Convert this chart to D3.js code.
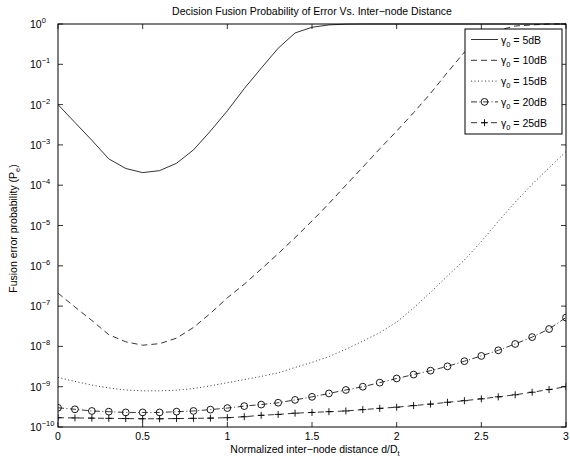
<!DOCTYPE html>
<html>
<head>
<meta charset="utf-8">
<script src="https://cdn.jsdelivr.net/npm/d3@7"></script>
<style>
  body { margin: 0; background: #fff; }
  text { font-family: "Liberation Sans", Arial, sans-serif; fill: #000; }
</style>
</head>
<body>
<svg width="570" height="461"></svg>
<script>
// normalized inter-node distance d/Dt
const distance = [0, 0.1, 0.2, 0.3, 0.4, 0.5, 0.6, 0.7, 0.8, 0.9, 1.0,
  1.1, 1.2, 1.3, 1.4, 1.5, 1.6, 1.7, 1.8, 1.9, 2.0,
  2.1, 2.2, 2.3, 2.4, 2.5, 2.6, 2.7, 2.8, 2.9, 3.0];

// fusion error probability, one array per SNR
const pe5dB = [1e-2, 3.6e-3, 1.3e-3, 4.5e-4, 2.6e-4, 2.05e-4, 2.3e-4, 3.5e-4, 7.5e-4, 2.2e-3, 7e-3,
  2.5e-2, 8e-2, 0.25, 0.6, 0.83, 0.95, 0.99, 1, 1, 1,
  1, 1, 1, 1, 1, 1, 1, 1, 1, 1];
const pe10dB = [2.1e-7, 9.5e-8, 4.4e-8, 1.95e-8, 1.3e-8, 1.07e-8, 1.17e-8, 1.6e-8, 2.95e-8, 6.6e-8, 1.6e-7,
  3.5e-7, 8.3e-7, 2e-6, 5e-6, 1.3e-5, 3.5e-5, 1e-4, 2.8e-4, 8e-4, 2.2e-3,
  6.3e-3, 1.9e-2, 6.3e-2, 0.2, 0.45, 0.7, 0.89, 0.95, 1, 1];
const pe15dB = [1.7e-9, 1.35e-9, 1.1e-9, 9.3e-10, 8.3e-10, 7.9e-10, 7.9e-10, 8.2e-10, 9e-10, 1.05e-9, 1.26e-9,
  1.5e-9, 1.8e-9, 2.2e-9, 3e-9, 4e-9, 5.6e-9, 8.5e-9, 1.35e-8, 2.2e-8, 4e-8,
  9e-8, 2.2e-7, 5.6e-7, 1.4e-6, 4e-6, 1.26e-5, 3.8e-5, 1.05e-4, 2.7e-4, 6.8e-4];
const pe20dB = [3e-10, 2.75e-10, 2.5e-10, 2.4e-10, 2.3e-10, 2.3e-10, 2.3e-10, 2.4e-10, 2.5e-10, 2.7e-10, 2.95e-10,
  3.3e-10, 3.6e-10, 4e-10, 4.7e-10, 5.6e-10, 6.8e-10, 8.3e-10, 1e-9, 1.26e-9, 1.6e-9,
  2e-9, 2.5e-9, 3.2e-9, 4.3e-9, 5.8e-9, 8e-9, 1.15e-8, 1.7e-8, 2.7e-8, 5.2e-8];
const pe25dB = [1.7e-10, 1.68e-10, 1.66e-10, 1.64e-10, 1.62e-10, 1.6e-10, 1.6e-10, 1.62e-10, 1.64e-10, 1.66e-10, 1.7e-10,
  1.8e-10, 1.95e-10, 2.05e-10, 2.2e-10, 2.3e-10, 2.4e-10, 2.5e-10, 2.7e-10, 2.9e-10, 3.1e-10,
  3.4e-10, 3.7e-10, 4.1e-10, 4.5e-10, 5e-10, 5.6e-10, 6.3e-10, 7.3e-10, 8.5e-10, 1e-9];

const legendLabels = ["5dB", "10dB", "15dB", "20dB", "25dB"];
const xTicks = [0, 0.5, 1, 1.5, 2, 2.5, 3];
const yExponents = [0, -1, -2, -3, -4, -5, -6, -7, -8, -9, -10];

// plot box
const boxL = 58, boxR = 566, boxT = 24, boxB = 427;

const svg = d3.select("svg");
svg.append("rect").attr("width", 570).attr("height", 461).attr("fill", "#fff");

const x = d3.scaleLinear().domain([0, 3]).range([boxL, boxR]);
const y = d3.scaleLog().domain([1e-10, 1]).range([boxB, boxT]);

svg.append("defs").append("clipPath").attr("id", "plotclip")
  .append("rect").attr("x", boxL).attr("y", boxT - 1)
  .attr("width", boxR - boxL).attr("height", boxB - boxT + 2);

// ticks (inward, on all four sides)
const ticks = svg.append("g").attr("stroke", "#000").attr("stroke-width", 0.8);
xTicks.forEach(function(t) {
  ticks.append("line").attr("x1", x(t)).attr("x2", x(t)).attr("y1", boxB).attr("y2", boxB - 5);
  ticks.append("line").attr("x1", x(t)).attr("x2", x(t)).attr("y1", boxT).attr("y2", boxT + 5);
});
y.ticks().forEach(function(t) {
  const major = Math.abs(Math.log10(t) - Math.round(Math.log10(t))) < 1e-9;
  const len = major ? 5 : 3;
  ticks.append("line").attr("x1", boxL).attr("x2", boxL + len).attr("y1", y(t)).attr("y2", y(t));
  ticks.append("line").attr("x1", boxR).attr("x2", boxR - len).attr("y1", y(t)).attr("y2", y(t));
});

// tick labels
svg.append("g").selectAll("text")
  .data(xTicks)
  .join("text")
    .attr("x", d => x(d))
    .attr("y", boxB + 13)
    .attr("text-anchor", "middle")
    .style("font-size", "10.5px")
    .text(d => d);

const yl = svg.append("g").selectAll("text")
  .data(yExponents)
  .join("text")
    .attr("x", 30)
    .attr("y", d => y(Math.pow(10, d)) + 4)
    .style("font-size", "10.5px");
yl.append("tspan").text("10");
yl.append("tspan").attr("dy", -5).style("font-size", "7.5px")
  .text(d => d < 0 ? "\u2212" + (-d) : d);

// series
const series = [
  { values: pe5dB, dash: null },
  { values: pe10dB, dash: "6,4" },
  { values: pe15dB, dash: "1,2.5" },
  { values: pe20dB, dash: "6,2.5,1,2.5", marker: "circle" },
  { values: pe25dB, dash: "6,4", marker: "plus" }
];

const line = d3.line()
  .x((d, i) => x(distance[i]))
  .y(d => y(d));

const plot = svg.append("g").attr("clip-path", "url(#plotclip)");

function drawMarker(g, kind, cx, cy) {
  if (kind === "circle") {
    g.append("circle").attr("cx", cx).attr("cy", cy).attr("r", 3.4)
      .attr("fill", "none").attr("stroke", "#000").attr("stroke-width", 0.9);
  } else if (kind === "plus") {
    g.append("path").attr("d", `M${cx - 3.5},${cy}H${cx + 3.5}M${cx},${cy - 3.5}V${cy + 3.5}`)
      .attr("stroke", "#000").attr("stroke-width", 0.9);
  }
}

series.forEach(function(s) {
  plot.append("path")
    .attr("d", line(s.values))
    .attr("fill", "none")
    .attr("stroke", "#000")
    .attr("stroke-width", 0.8)
    .attr("stroke-dasharray", s.dash);
  if (s.marker) {
    s.values.forEach(function(v, i) { drawMarker(plot, s.marker, x(distance[i]), y(v)); });
  }
});

// axes box
svg.append("rect")
  .attr("x", boxL).attr("y", boxT)
  .attr("width", boxR - boxL).attr("height", boxB - boxT)
  .attr("fill", "none").attr("stroke", "#000").attr("stroke-width", 1);

// legend
const lg = svg.append("g");
lg.append("rect").attr("x", 465).attr("y", 29).attr("width", 97).attr("height", 105)
  .attr("fill", "#fff").attr("stroke", "#000").attr("stroke-width", 1);
series.forEach(function(s, i) {
  const ly = 39.5 + i * 20.8;
  lg.append("line").attr("x1", 471).attr("x2", 498).attr("y1", ly).attr("y2", ly)
    .attr("stroke", "#000").attr("stroke-width", 0.8).attr("stroke-dasharray", s.dash);
  if (s.marker) drawMarker(lg, s.marker, 484.5, ly);
  const t = lg.append("text").attr("x", 501).attr("y", ly + 4).style("font-size", "10.5px");
  t.append("tspan").text("\u03b3");
  t.append("tspan").attr("dy", 3).style("font-size", "7.5px").text("0");
  t.append("tspan").attr("dy", -3).text(" = " + legendLabels[i]);
});

// titles
svg.append("text")
  .attr("x", (boxL + boxR) / 2).attr("y", 15)
  .attr("text-anchor", "middle")
  .style("font-size", "10.5px")
  .text("Decision Fusion Probability of Error Vs. Inter\u2212node Distance");

const xl = svg.append("text")
  .attr("x", (boxL + boxR) / 2 + 3).attr("y", 453)
  .attr("text-anchor", "middle")
  .style("font-size", "10.5px");
xl.append("tspan").text("Normalized inter\u2212node distance d/D");
xl.append("tspan").attr("dy", 3).style("font-size", "7.5px").text("t");

const ylab = svg.append("text")
  .attr("transform", "translate(17," + ((boxT + boxB) / 2 + 3) + ") rotate(-90)")
  .attr("text-anchor", "middle")
  .style("font-size", "10.5px");
ylab.append("tspan").text("Fusion error probability (P");
ylab.append("tspan").attr("dy", 3).style("font-size", "7.5px").text("e");
ylab.append("tspan").attr("dy", -3).text(")");
</script>
</body>
</html>
